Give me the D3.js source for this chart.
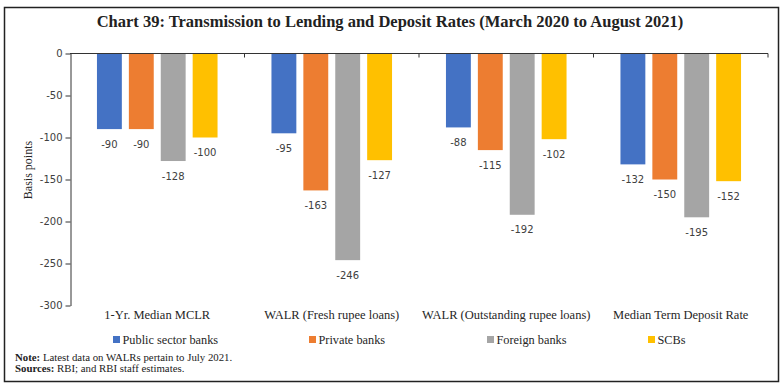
<!doctype html>
<html lang="en">
<head>
    <meta charset="utf-8">
    <title>Chart 39</title>
    <script src="https://d3js.org/d3.v7.min.js"></script>
    <style>
        body { margin: 0; background: #fff; }
        svg text { font-family: "Liberation Serif", serif; }
    </style>
</head>
<body>
<script>
    // data
    var categories = ["1-Yr. Median MCLR", "WALR (Fresh rupee loans)", "WALR (Outstanding rupee loans)", "Median Term Deposit Rate"];
    var seriesNames = ["Public sector banks", "Private banks", "Foreign banks", "SCBs"];
    var publicBanks = [-90, -95, -88, -132];
    var privateBanks = [-90, -163, -115, -150];
    var foreignBanks = [-128, -246, -192, -195];
    var scbs = [-100, -127, -102, -152];
    var yTicks = [0, -50, -100, -150, -200, -250, -300];

    var colors = ["#4472C4", "#ED7D31", "#A5A5A5", "#FFC000"];
    var values = [publicBanks, privateBanks, foreignBanks, scbs];

    var width = 784, height = 389;
    var plotLeft = 70, plotRight = 768, plotTop = 53.5, plotBottom = 305.5;

    var svg = d3.select("body").append("svg")
        .attr("width", width)
        .attr("height", height);

    // frame
    svg.append("rect")
        .attr("x", 4.5).attr("y", 7.5)
        .attr("width", 774).attr("height", 374)
        .attr("fill", "none")
        .attr("stroke", "#222")
        .attr("stroke-width", 1.5);

    svg.append("text")
        .attr("x", 390).attr("y", 27)
        .attr("text-anchor", "middle")
        .style("font-size", "16.5px")
        .style("font-weight", "bold")
        .attr("fill", "#222")
        .text("Chart 39: Transmission to Lending and Deposit Rates (March 2020 to August 2021)");

    var y = d3.scaleLinear().domain([-300, 0]).range([plotBottom, plotTop]);
    var x0 = d3.scaleBand().domain(categories).range([plotLeft, plotRight]);
    var x1 = d3.scaleBand().domain(seriesNames).range([0, x0.bandwidth()])
        .paddingInner(0.22).paddingOuter(0.845);

    // y axis
    var yAxis = svg.append("g")
        .attr("transform", "translate(" + (plotLeft + 0.5) + ",0)")
        .call(d3.axisLeft(y).tickValues(yTicks).tickSize(5).tickSizeOuter(0)
            .tickFormat(function (d) { return String(d); }));
    yAxis.select(".domain").attr("stroke", "#333");
    yAxis.selectAll(".tick line").attr("stroke", "#333");
    yAxis.selectAll(".tick text")
        .style("font-family", "DejaVu Sans")
        .style("font-size", "10px")
        .attr("fill", "#404040");

    svg.append("text")
        .attr("transform", "translate(28,170) rotate(-90)")
        .attr("text-anchor", "middle")
        .attr("dominant-baseline", "central")
        .style("font-size", "12px")
        .attr("fill", "#262626")
        .text("Basis points");

    // bars
    var rows = [];
    categories.forEach(function (c, i) {
        seriesNames.forEach(function (s, j) {
            rows.push({ cat: c, series: s, value: values[j][i], color: colors[j] });
        });
    });

    svg.append("g").selectAll("rect")
        .data(rows)
        .enter().append("rect")
        .attr("x", function (d) { return x0(d.cat) + x1(d.series); })
        .attr("y", y(0))
        .attr("width", x1.bandwidth())
        .attr("height", function (d) { return y(d.value) - y(0); })
        .attr("fill", function (d) { return d.color; });

    svg.append("g").selectAll("text")
        .data(rows)
        .enter().append("text")
        .attr("x", function (d) { return x0(d.cat) + x1(d.series) + x1.bandwidth() / 2; })
        .attr("y", function (d) { return y(d.value) + 15; })
        .attr("dy", "0.35em")
        .attr("text-anchor", "middle")
        .style("font-family", "DejaVu Sans")
        .style("font-size", "10px")
        .attr("fill", "#404040")
        .text(function (d) { return d.value; });

    // zero line with category ticks
    var x0Axis = svg.append("g");
    x0Axis.append("line")
        .attr("x1", plotLeft).attr("x2", plotRight)
        .attr("y1", y(0)).attr("y2", y(0))
        .attr("stroke", "#333");
    var bounds = categories.map(function (c) { return x0(c); }).concat([plotRight]);
    x0Axis.selectAll(".cticks")
        .data(bounds.slice(1))
        .enter().append("line")
        .attr("x1", function (d) { return d; }).attr("x2", function (d) { return d; })
        .attr("y1", y(0)).attr("y2", y(0) + 4)
        .attr("stroke", "#333");

    // category labels
    svg.append("g").selectAll("text")
        .data(categories)
        .enter().append("text")
        .attr("x", function (d) { return x0(d) + x0.bandwidth() / 2; })
        .attr("y", 319)
        .attr("text-anchor", "middle")
        .style("font-size", "12.5px")
        .attr("fill", "#262626")
        .text(function (d) { return d; });

    // legend
    var legendX = [113, 309, 487, 648];
    var leg = svg.append("g").selectAll("g")
        .data(seriesNames)
        .enter().append("g")
        .attr("transform", function (d, i) { return "translate(" + legendX[i] + ",336)"; });
    leg.append("rect")
        .attr("width", 7).attr("height", 7)
        .attr("fill", function (d, i) { return colors[i]; });
    leg.append("text")
        .attr("x", 9.5).attr("y", 3.5)
        .attr("dy", "0.35em")
        .style("font-size", "12.3px")
        .attr("fill", "#262626")
        .text(function (d) { return d; });

    // notes
    var note = svg.append("text").attr("x", 15).attr("y", 360.5)
        .style("font-size", "10.8px").attr("fill", "#222");
    note.append("tspan").style("font-weight", "bold").text("Note: ");
    note.append("tspan").text("Latest data on WALRs pertain to July 2021.");
    var src = svg.append("text").attr("x", 15).attr("y", 372)
        .style("font-size", "10.8px").attr("fill", "#222");
    src.append("tspan").style("font-weight", "bold").text("Sources: ");
    src.append("tspan").text("RBI; and RBI staff estimates.");
</script>
</body>
</html>
